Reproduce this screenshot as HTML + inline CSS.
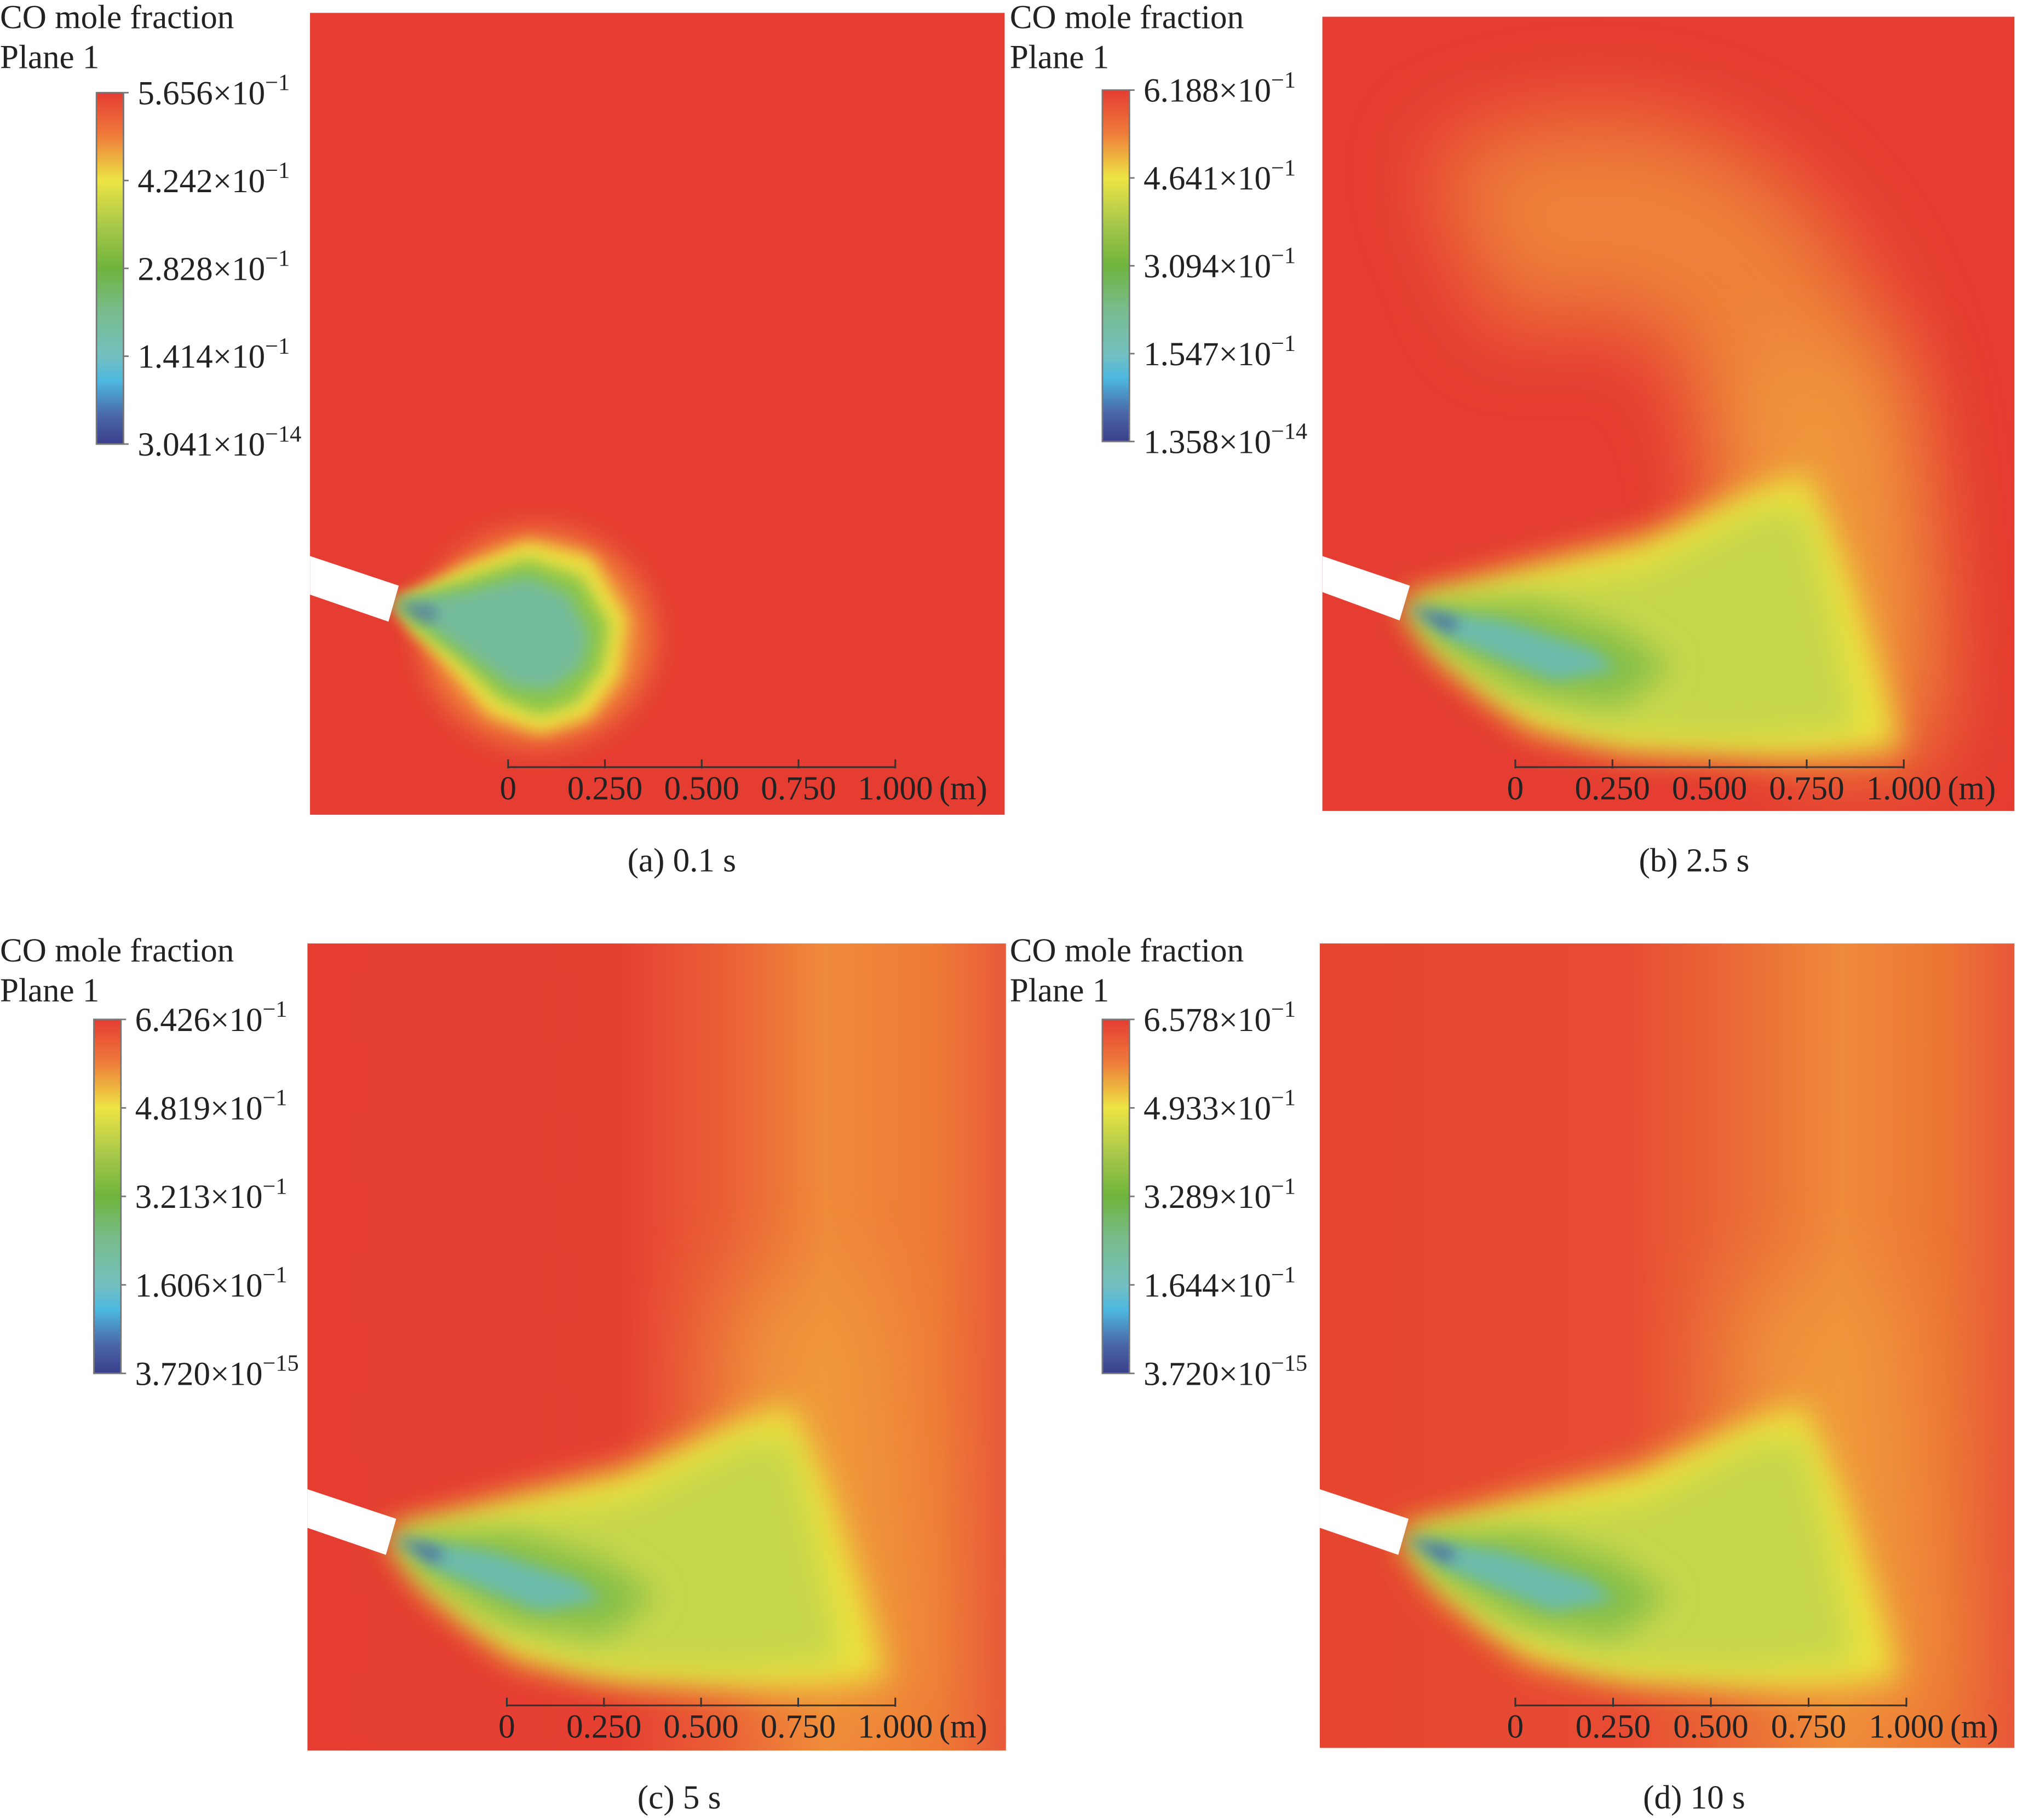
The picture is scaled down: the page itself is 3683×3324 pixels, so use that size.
<!DOCTYPE html>
<html><head><meta charset="utf-8"><style>
html,body{margin:0;padding:0;background:#fff}
svg{display:block}
</style></head><body>
<svg id="fig" width="3683" height="3324" viewBox="0 0 1568 1414" preserveAspectRatio="none" xmlns="http://www.w3.org/2000/svg" font-family="'Liberation Serif', serif">
<defs>
<linearGradient id="cbar" x1="0" y1="0" x2="0" y2="1">
<stop offset="0" stop-color="#e43c32"/><stop offset="0.12" stop-color="#ef7a3a"/>
<stop offset="0.25" stop-color="#ede444"/><stop offset="0.38" stop-color="#a8c84a"/>
<stop offset="0.5" stop-color="#6fb43c"/><stop offset="0.62" stop-color="#78bc8c"/>
<stop offset="0.75" stop-color="#74c0c0"/><stop offset="0.82" stop-color="#4cb8e0"/>
<stop offset="0.92" stop-color="#4a66a8"/><stop offset="1" stop-color="#3a3f8c"/>
</linearGradient>
<linearGradient id="hazeC" x1="0" y1="0" x2="1" y2="0">
<stop offset="0" stop-color="#e53d32"/><stop offset="0.44" stop-color="#e53f32"/>
<stop offset="0.6" stop-color="#ea6036"/><stop offset="0.74" stop-color="#ef8a3a"/>
<stop offset="0.9" stop-color="#ee7a36"/><stop offset="1" stop-color="#e85a3a"/>
</linearGradient>
<linearGradient id="hazeD" x1="0" y1="0" x2="1" y2="0">
<stop offset="0" stop-color="#e6452f"/><stop offset="0.44" stop-color="#e74c33"/>
<stop offset="0.6" stop-color="#ea6a36"/><stop offset="0.75" stop-color="#ef8a3a"/>
<stop offset="0.9" stop-color="#ec7534"/><stop offset="1" stop-color="#e8583a"/>
</linearGradient>
<filter id="b6" x="-50%" y="-50%" width="200%" height="200%"><feGaussianBlur stdDeviation="6"/></filter>
<filter id="b12" x="-50%" y="-50%" width="200%" height="200%"><feGaussianBlur stdDeviation="12"/></filter>
<filter id="b35" x="-50%" y="-50%" width="200%" height="200%"><feGaussianBlur stdDeviation="35"/></filter>
<clipPath id="cpa"><rect x="241" y="10" width="540" height="623"/></clipPath>
<clipPath id="cpb"><rect x="1028" y="13" width="538" height="617"/></clipPath>
<clipPath id="cpc"><rect x="239" y="733" width="543" height="627"/></clipPath>
<clipPath id="cpd"><rect x="1026" y="733" width="540" height="625"/></clipPath>
<g id="plume">
  <path d="M560,1000 L680,1000 L700,1200 L720,1320 L600,1320 L560,1150 Z" fill="#f0a03c" opacity="0.7" filter="url(#b35)"/>
  <path d="M300,1190 L400,1162 L490,1140 L570,1105 L615,1090 L645,1160 L675,1250 L690,1305 L600,1312 L480,1308 L400,1290 L330,1235 Z" fill="#ece33e" filter="url(#b12)"/>
  <path d="M310,1193 L400,1178 L490,1165 L580,1120 L615,1120 L635,1200 L655,1290 L560,1298 L450,1292 L370,1260 Z" fill="#c6d64c" filter="url(#b12)"/>
  <path d="M305,1193 L400,1190 L470,1212 L510,1240 L470,1272 L400,1262 L330,1225 Z" fill="#86c048" filter="url(#b12)"/>
  <path d="M305,1194 L380,1205 L450,1228 L468,1243 L420,1252 L340,1220 Z" fill="#6cbcac" filter="url(#b6)"/>
  <path d="M305,1194 L345,1206 L338,1213 Z" fill="#3a4a9a" filter="url(#b6)"/>
</g>
</defs>
<rect width="1568" height="1414" fill="#fff"/>

<g>
<rect x="241" y="10" width="540" height="623" fill="#e53d32"/>
<g clip-path="url(#cpa)">
<ellipse cx="418" cy="495" rx="88" ry="82" fill="#f08a3a" filter="url(#b12)"/>
<path d="M305,468 L360,440 L410,420 L460,432 L488,480 L482,525 L458,558 L420,570 L380,555 L350,520 L320,490 Z" fill="#ecdf40" filter="url(#b6)"/>
<path d="M305,468 L360,450 L410,434 L452,448 L474,486 L468,520 L448,546 L420,556 L388,543 L357,514 L322,488 Z" fill="#8cc64a" filter="url(#b6)"/>
<path d="M305,468 L360,460 L410,448 L442,462 L458,494 L452,518 L428,536 L400,534 L372,514 L332,485 Z" fill="#74bc9c" filter="url(#b6)"/>
<path d="M305,468 L340,475 L335,482 Z" fill="#3a4a9a" filter="url(#b6)"/>
<polygon points="241,432 310,455 302,483 241,462" fill="#fff"/>
</g>
</g>

<g>
<rect x="1028" y="13" width="538" height="617" fill="#e53d32"/>
<g clip-path="url(#cpb)">
<path d="M1140,190 Q1330,110 1400,300 Q1430,420 1420,540" fill="none" stroke="#ef8a3a" stroke-width="150" opacity="0.9" filter="url(#b35)"/>
<g transform="translate(789,-723)"><use href="#plume"/></g>
<polygon points="1028,432 1096,455 1088,482 1028,460" fill="#fff"/>
</g>
</g>

<g>
<rect x="239" y="733" width="543" height="627" fill="url(#hazeC)"/>
<g clip-path="url(#cpc)"><use href="#plume"/>
<polygon points="239,1157 308,1180 300,1208 239,1187" fill="#fff"/></g>
</g>

<g>
<rect x="1026" y="733" width="540" height="625" fill="url(#hazeD)"/>
<g clip-path="url(#cpd)">
<g transform="translate(787,0)"><use href="#plume"/></g>
<polygon points="1026,1157 1095,1180 1087,1208 1026,1187" fill="#fff"/></g>
</g>

<g id="overlay"></g>
</svg>
<script>
const panels = ["a","b","c","d"];
const captions = ["(a) 0.1 s","(b) 2.5 s","(c) 5 s","(d) 10 s"];
const cbarTicksA = ["5.656","4.242","2.828","1.414","3.041"];
const cbarTicksB = ["6.188","4.641","3.094","1.547","1.358"];
const cbarTicksC = ["6.426","4.819","3.213","1.606","3.720"];
const cbarTicksD = ["6.578","4.933","3.289","1.644","3.720"];
const cbarExp = [["1","1","1","1","14"],["1","1","1","1","14"],["1","1","1","1","15"],["1","1","1","1","15"]];
const scaleTicks = [0,0.25,0.5,0.75,1.0];
const scaleLabels = ["0","0.250","0.500","0.750","1.000"];
const layout = [
 {tx:0,ty:22,cx:75,cy0:72,cy1:345,sx0:395,sx1:696,sy:596,capx:530,capy:677},
 {tx:785,ty:22,cx:857,cy0:70,cy1:343,sx0:1178,sx1:1480,sy:596,capx:1317,capy:677},
 {tx:0,ty:747,cx:73,cy0:792,cy1:1067,sx0:394,sx1:696,sy:1325,capx:528,capy:1405},
 {tx:785,ty:747,cx:857,cy0:792,cy1:1067,sx0:1178,sx1:1482,sy:1325,capx:1317,capy:1405}];
const ticksAll=[cbarTicksA,cbarTicksB,cbarTicksC,cbarTicksD];
const NS="http://www.w3.org/2000/svg";
const ov=document.getElementById('overlay');
const FF="'Liberation Serif', serif";
function mk(tag,attrs,txt){const e=document.createElementNS(NS,tag);for(const k in attrs)e.setAttribute(k,attrs[k]);if(tag==='text'){e.setAttribute('font-family',FF);e.setAttribute('fill','#222');}if(txt!==undefined)e.textContent=txt;ov.appendChild(e);return e;}
layout.forEach((L,i)=>{
  let t=mk('text',{x:L.tx,y:L.ty,'font-size':26},'CO mole fraction');
  
  
  t=mk('text',{x:L.tx,y:L.ty+31,'font-size':26},'Plane 1');
  
  
  const r=mk('rect',{x:L.cx,y:L.cy0,width:21,height:L.cy1-L.cy0,fill:'url(#cbar)',stroke:'#777','stroke-width':1.2});
  
  
  ticksAll[i].forEach((v,k)=>{
    const y=L.cy0+(L.cy1-L.cy0)*k/4;
    mk('line',{x1:L.cx+21,x2:L.cx+25,y1:y,y2:y,stroke:'#777','stroke-width':1.2});
    const tx=mk('text',{x:L.cx+32,y:y+9,'font-size':26});
    
    
    tx.appendChild(document.createTextNode(v+'×10'));
    const sp=document.createElementNS(NS,'tspan');
    sp.setAttribute('dy','-11');sp.setAttribute('font-size','18');
    sp.textContent='−'+cbarExp[i][k];
    tx.appendChild(sp);
  });
  const sc=x=>L.sx0+(L.sx1-L.sx0)*x;
  const ln=mk('line',{x1:sc(0),x2:sc(1),y1:L.sy,y2:L.sy,stroke:'#333','stroke-width':1.3});
  
  
  scaleTicks.forEach((v,k)=>{
    mk('line',{x1:sc(v),x2:sc(v),y1:L.sy-6,y2:L.sy+1,stroke:'#333','stroke-width':1.3});
    const tl=mk('text',{x:sc(v),y:L.sy+25,'font-size':26,'text-anchor':'middle'},scaleLabels[k]);
    
    
  });
  const u=mk('text',{x:sc(1)+34,y:L.sy+25,'font-size':26},'(m)');
  
  
  const c=mk('text',{x:L.capx,y:L.capy,'font-size':26,'text-anchor':'middle'},captions[i]);
  
  
});
</script>
</body></html>
